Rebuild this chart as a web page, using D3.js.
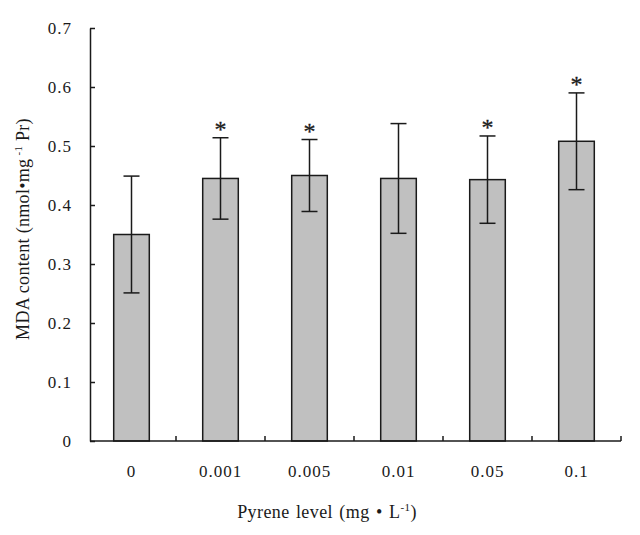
<!DOCTYPE html>
<html>
<head>
<meta charset="utf-8">
<script src="https://cdn.jsdelivr.net/npm/d3@7"></script>
<style>
  html, body { margin: 0; padding: 0; background: #ffffff; }
  svg { display: block; }
  text { font-family: "Liberation Serif", "DejaVu Serif", serif; fill: #1a1a1a; }
</style>
</head>
<body>
<svg id="chart" width="640" height="535"></svg>
<script>
const categories = ["0", "0.001", "0.005", "0.01", "0.05", "0.1"];
const meanValues = [0.350, 0.445, 0.450, 0.445, 0.443, 0.508];
const errorValues = [0.099, 0.069, 0.061, 0.093, 0.074, 0.082];
const significant = [false, true, true, false, true, true];
const yTicks = [0, 0.1, 0.2, 0.3, 0.4, 0.5, 0.6, 0.7];

const svg = d3.select("#chart");
const W = 640, H = 535;
svg.append("rect").attr("width", W).attr("height", H).attr("fill", "#ffffff");

const x = d3.scaleBand().domain(categories).range([87, 621]).padding(0);
const y = d3.scaleLinear().domain([0, 0.7]).range([441, 28]);
const barW = x.bandwidth() * 0.4;
const axisLeftX = 90;

const data = categories.map((c, i) => ({ c, v: meanValues[i], e: errorValues[i], s: significant[i] }));

// bars
svg.append("g").selectAll("rect").data(data).join("rect")
  .attr("x", d => x(d.c) + x.bandwidth() / 2 - barW / 2)
  .attr("y", d => y(d.v))
  .attr("width", barW)
  .attr("height", d => y(0) - y(d.v))
  .attr("fill", "#c0c0c0")
  .attr("stroke", "#1a1a1a")
  .attr("stroke-width", 1.5);

// error bars
const eg = svg.append("g").attr("stroke", "#1a1a1a").attr("stroke-width", 1.5);
data.forEach(d => {
  const cx = x(d.c) + x.bandwidth() / 2;
  eg.append("line").attr("x1", cx).attr("x2", cx).attr("y1", y(d.v + d.e)).attr("y2", y(d.v - d.e));
  eg.append("line").attr("x1", cx - 8).attr("x2", cx + 8).attr("y1", y(d.v + d.e)).attr("y2", y(d.v + d.e));
  eg.append("line").attr("x1", cx - 8).attr("x2", cx + 8).attr("y1", y(d.v - d.e)).attr("y2", y(d.v - d.e));
});

// stars
svg.append("g").selectAll("text").data(data.filter(d => d.s)).join("text")
  .attr("x", d => x(d.c) + x.bandwidth() / 2)
  .attr("y", d => y(d.v + d.e) - 1)
  .attr("text-anchor", "middle")
  .attr("font-family", "DejaVu Sans")
  .attr("font-size", 24)
  .attr("stroke", "#1a1a1a").attr("stroke-width", 0.3)
  .text("*");

// y axis
const yAxis = d3.axisLeft(y).tickValues(yTicks)
  .tickFormat(d => d === 0 ? "0" : d3.format(".1f")(d))
  .tickSizeInner(-5).tickSizeOuter(0).tickPadding(18);
const gy = svg.append("g").attr("transform", `translate(${axisLeftX},0)`).call(yAxis);
gy.select(".domain").attr("stroke", "#1a1a1a").attr("stroke-width", 1.5);
gy.selectAll(".tick line").attr("stroke", "#1a1a1a").attr("stroke-width", 1.5);
gy.selectAll(".tick text").attr("font-size", 17).attr("letter-spacing", 1)
  .attr("font-family", "Liberation Serif").attr("fill", "#1a1a1a");

// x axis
const xAxis = d3.axisBottom(x).tickSize(0).tickPadding(24);
const gx = svg.append("g").attr("transform", `translate(0,${y(0)})`).call(xAxis);
gx.select(".domain").remove();
gx.selectAll(".tick text").attr("font-size", 17).attr("letter-spacing", 1)
  .attr("font-family", "Liberation Serif").attr("fill", "#1a1a1a");
svg.append("line").attr("x1", axisLeftX).attr("x2", x.range()[1])
  .attr("y1", y(0)).attr("y2", y(0)).attr("stroke", "#1a1a1a").attr("stroke-width", 1.5);
svg.append("g").selectAll("line").data(categories).join("line")
  .attr("x1", d => x(d) + x.bandwidth()).attr("x2", d => x(d) + x.bandwidth())
  .attr("y1", y(0)).attr("y2", y(0) - 5)
  .attr("stroke", "#1a1a1a").attr("stroke-width", 1.5);

// x title
const xt = svg.append("text").attr("x", 327).attr("y", 518).attr("text-anchor", "middle")
  .attr("font-size", 18).attr("letter-spacing", 0.4).attr("word-spacing", 1.5);
xt.append("tspan").text("Pyrene level (mg • L");
xt.append("tspan").attr("font-size", 11).attr("dy", -7).text("-1");
xt.append("tspan").attr("dy", 7).text(")");

// y title
const yt = svg.append("text").attr("transform", "translate(29,229) rotate(-90)")
  .attr("text-anchor", "middle").attr("font-size", 18).attr("letter-spacing", 0.3);
yt.append("tspan").text("MDA content (nmol•mg");
yt.append("tspan").attr("font-size", 11).attr("dy", -7).text(" -1");
yt.append("tspan").attr("dy", 7).text(" Pr)");
</script>
</body>
</html>
